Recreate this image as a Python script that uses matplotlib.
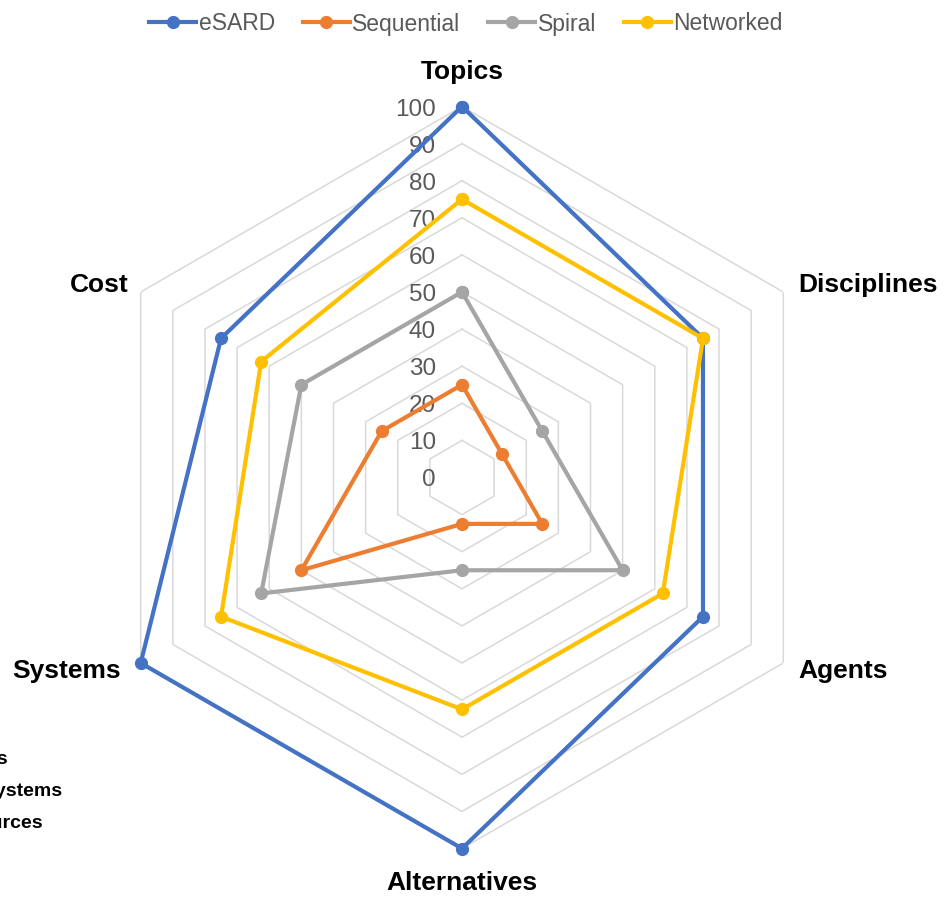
import numpy as np
import matplotlib as mpl
mpl.use('Agg')
import matplotlib.pyplot as plt

plt.rcParams['font.family'] = ['Liberation Sans', 'DejaVu Sans']

categories = ['Topics', 'Disciplines', 'Agents', 'Alternatives', 'Systems', 'Cost']
series_names = ['eSARD', 'Sequential', 'Spiral', 'Networked']
esard = [100, 75, 75, 100, 100, 75]
sequential = [25, 12.5, 25, 12.5, 50, 25]
spiral = [50, 25, 50, 25, 62.5, 50]
networked = [75, 75, 62.5, 62.5, 75, 62.5]
ticks = [0, 10, 20, 30, 40, 50, 60, 70, 80, 90, 100]
clipped_notes = ['Alternatives', 'Subsystems', 'Resources']

colors = ['#4472C4', '#ED7D31', '#A5A5A5', '#FFC000']

W, H = 950, 899
fig = plt.figure(figsize=(W / 100., H / 100.), dpi=100)

cx, cy, R = 462, 477.5, 371
ax = fig.add_axes([(cx - R) / W, (H - cy - R) / H, 2 * R / W, 2 * R / H],
                  projection='polar')
ax.set_theta_zero_location('N')
ax.set_theta_direction(-1)
ax.set_ylim(0, 100)
ax.grid(False)
ax.spines['polar'].set_visible(False)
ax.set_xticks([])
ax.set_yticks([])
ax.patch.set_visible(False)

n = len(categories)
ang = np.arange(n) * 2 * np.pi / n
ang_c = np.append(ang, ang[0])

# hexagon grid rings
for t in ticks[1:]:
    ax.plot(ang_c, [t] * (n + 1), color='#D9D9D9', lw=1.1, zorder=1)

for name, vals, c in zip(series_names, [esard, sequential, spiral, networked], colors):
    v = list(vals) + [vals[0]]
    ax.plot(ang_c, v, color=c, lw=3, marker='o', ms=8.5, label=name, zorder=3,
            clip_on=False)

for t in ticks:
    ax.annotate(str(t), xy=(0, t), xytext=(-26, -3), textcoords='offset pixels',
                ha='right', va='center', fontsize=17.5, color='#595959', zorder=2)

offs = [(0, 34, 'center'), (15, 7, 'left'), (15, -8, 'left'),
        (0, -35, 'center'), (-20, -8, 'right'), (-12, 7, 'right')]
for a, lab, (dx, dy, ha) in zip(ang, categories, offs):
    ax.annotate(lab, xy=(a, 100), xytext=(dx, dy), textcoords='offset pixels',
                ha=ha, va='center', fontsize=19, fontweight='bold', color='black',
                annotation_clip=False)

# text cut at the left edge
for txt, xr, yy in zip(clipped_notes, [8, 62, 43], [760, 792, 823]):
    fig.text(xr / W, 1 - yy / H, txt, ha='right', va='center', fontsize=14,
             fontweight='bold', color='black')

fig.legend(loc='center', bbox_to_anchor=(466 / W, 1 - 24 / H), ncol=4,
           frameon=False, fontsize=16.5,
           handlelength=2.05, handletextpad=0.12, columnspacing=1.2,
           labelcolor='#595959')

fig.savefig('out.png', dpi=100)
